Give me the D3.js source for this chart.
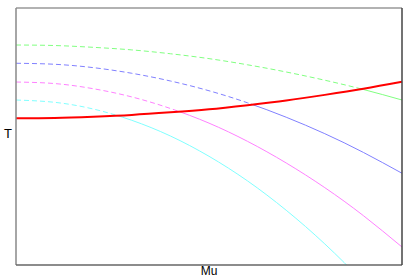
<!DOCTYPE html>
<html lang="en">
<head>
<meta charset="UTF-8">
<title>T vs Mu</title>
<style>
  body { margin: 0; background: #fff; }
  text { font-family: "Liberation Sans", Arial, sans-serif; }
</style>
</head>
<body>
<div id="chart"></div>
<script src="https://d3js.org/d3.v7.min.js"></script>
<script>
// sample points along Mu
let mu = [0, 0.1, 0.2, 0.3, 0.4, 0.5, 0.6, 0.7, 0.8, 0.9, 1.0];

// transition line (red)
let redT = [0.571, 0.572, 0.577, 0.584, 0.594, 0.606, 0.622, 0.640, 0.662, 0.686, 0.713];

// the other curves
let greenT = [0.856, 0.854, 0.847, 0.837, 0.822, 0.803, 0.779, 0.751, 0.719, 0.683, 0.642];
let blueT = [0.785, 0.781, 0.768, 0.746, 0.716, 0.678, 0.631, 0.575, 0.511, 0.438, 0.357];
let magentaT = [0.712, 0.706, 0.686, 0.654, 0.609, 0.552, 0.481, 0.397, 0.301, 0.192, 0.070];
let cyanT = [0.642, 0.633, 0.607, 0.563, 0.502, 0.423, 0.327, 0.213, 0.082, -0.067, -0.230];

let curves = [
  { vals: greenT, color: '#80ff80' },
  { vals: blueT, color: '#8080ff' },
  { vals: magentaT, color: '#ff80ff' },
  { vals: cyanT, color: '#80ffff' }
];

let width = 415, height = 277;
let padL = 16, padR = 402, padT = 8, padB = 265;

let xScale = d3.scaleLinear().domain([0, 1]).range([padL, padR]);
let yScale = d3.scaleLinear().domain([0, 1]).range([padB, padT]);

let svg = d3.select('#chart').append('svg')
  .attr('width', width)
  .attr('height', height);

let defs = svg.append('defs');

let pts = vals => vals.map((v, i) => [mu[i], v]);

let line = d3.line()
  .x(d => xScale(d[0]))
  .y(d => yScale(d[1]))
  .curve(d3.curveNatural);

// regions above and below the red line
let areaAbove = d3.area()
  .x(d => xScale(d[0]))
  .y0(padT - 5)
  .y1(d => yScale(d[1]))
  .curve(d3.curveNatural);
let areaBelow = d3.area()
  .x(d => xScale(d[0]))
  .y0(padB)
  .y1(d => yScale(d[1]))
  .curve(d3.curveNatural);

defs.append('clipPath').attr('id', 'above')
  .append('path').attr('d', areaAbove(pts(redT)));
defs.append('clipPath').attr('id', 'below')
  .append('path').attr('d', areaBelow(pts(redT)));

curves.forEach(c => {
  svg.append('path')
    .attr('clip-path', 'url(#above)')
    .attr('d', line(pts(c.vals)))
    .attr('fill', 'none')
    .attr('stroke', c.color)
    .attr('stroke-width', 1)
    .attr('stroke-dasharray', '5,3');
  svg.append('path')
    .attr('clip-path', 'url(#below)')
    .attr('d', line(pts(c.vals)))
    .attr('fill', 'none')
    .attr('stroke', c.color)
    .attr('stroke-width', 1);
});

svg.append('path')
  .attr('d', line(pts(redT)))
  .attr('fill', 'none')
  .attr('stroke', '#ff0000')
  .attr('stroke-width', 2);

// frame
svg.append('line').attr('x1', padL).attr('x2', padR).attr('y1', padT).attr('y2', padT)
  .attr('stroke', '#999').attr('stroke-width', 1.5);
svg.append('line').attr('x1', padL).attr('x2', padL).attr('y1', padT).attr('y2', padB)
  .attr('stroke', '#888').attr('stroke-width', 1.5);
svg.append('line').attr('x1', padL).attr('x2', padR).attr('y1', padB).attr('y2', padB)
  .attr('stroke', '#666').attr('stroke-width', 1.5);
svg.append('line').attr('x1', padR).attr('x2', padR).attr('y1', padT).attr('y2', padB)
  .attr('stroke', '#444').attr('stroke-width', 1.5);

svg.append('text')
  .attr('x', 8).attr('y', 138)
  .attr('text-anchor', 'middle')
  .attr('font-size', 13)
  .text('T');

svg.append('text')
  .attr('x', (padL + padR) / 2).attr('y', 275)
  .attr('text-anchor', 'middle')
  .attr('font-size', 12)
  .text('Mu');
</script>
</body>
</html>
